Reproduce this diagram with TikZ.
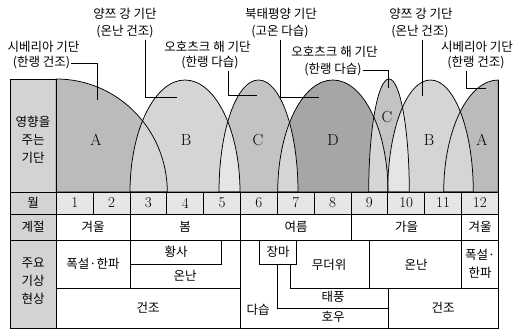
\documentclass[tikz,border=0pt]{standalone}
\usepackage{fontspec}
\newfontfamily\kr{Noto Sans CJK KR}
\definecolor{colL}{HTML}{D3D3D3}
\definecolor{colM}{HTML}{E6E6E6}
\definecolor{colA}{HTML}{BBBBBB}
\definecolor{colB}{HTML}{D5D5D5}
\definecolor{colC}{HTML}{C3C3C3}
\definecolor{colD}{HTML}{A6A6A6}
\definecolor{ovl}{HTML}{E5E5E5}
\definecolor{ovm}{HTML}{D6D6D6}
\def\arcA{(56.3,192) -- (56.3,79) arc[start angle=270,end angle=360,x radius=111,y radius=113] -- cycle}
\def\arcB{(130,192) arc[start angle=180,end angle=360,x radius=55,y radius=112] -- cycle}
\def\arcC{(219,192) arc[start angle=180,end angle=360,x radius=39.5,y radius=112] -- cycle}
\def\arcD{(277.7,192) arc[start angle=180,end angle=360,x radius=55.15,y radius=112] -- cycle}
\def\arcE{(368.7,192) arc[start angle=180,end angle=360,x radius=20.3,y radius=113] -- cycle}
\def\arcF{(387.7,192) arc[start angle=180,end angle=360,x radius=42.8,y radius=112] -- cycle}
\def\arcG{(443.7,192) arc[start angle=180,end angle=270,x radius=54.6,y radius=112] -- (498.3,192) -- cycle}
\begin{document}
\begin{tikzpicture}[x=1pt,y=-1pt,
  ln/.style={line width=0.75pt},
  kr/.style={font=\kr\fontsize{12.5}{17}\selectfont, inner sep=1pt, align=center},
  krt/.style={font=\kr\fontsize{12.5}{18}\selectfont, inner sep=1pt, align=center},
  num/.style={font=\fontsize{15}{15}\selectfont, inner sep=1pt},
  big/.style={font=\fontsize{16}{16}\selectfont, inner sep=1pt}]
\useasboundingbox (0,0) rectangle (516,329);
% background fills
\fill[colL] (10,79) rectangle (56.3,328);
\fill[colM] (56.3,192) rectangle (498.3,214);
\fill[white] (56.3,214) rectangle (498.3,328);
% air masses
\fill[colA] \arcA;
\fill[colB] \arcB;
\fill[colC] \arcC;
\fill[colD] \arcD;
\fill[colC] \arcE;
\fill[colA] \arcG;
\fill[colB] \arcF;
\begin{scope}\clip \arcB; \fill[ovl] \arcC; \end{scope}
\begin{scope}\clip \arcC; \fill[ovm] \arcD; \end{scope}
\begin{scope}\clip \arcD; \fill[ovm] \arcE; \end{scope}
\begin{scope}\clip \arcE; \fill[ovl] \arcF; \end{scope}
\draw[ln] \arcA; \draw[ln] \arcB; \draw[ln] \arcC; \draw[ln] \arcD;
\draw[ln] \arcE; \draw[ln] \arcF; \draw[ln] \arcG;
% table frame
\draw[ln] (10,79) -- (56.3,79);
\draw[ln] (10,79) -- (10,328) -- (498.3,328) -- (498.3,80);
\draw[ln] (56.3,79) -- (56.3,328);
\foreach \yy in {192,214,240} \draw[ln] (10,\yy) -- (498.3,\yy);
\foreach \i in {1,...,11} \draw[ln] (56.3+36.833*\i,192) -- (56.3+36.833*\i,214);
\foreach \xx in {130,240,351.7,461.7} \draw[ln] (\xx,214) -- (\xx,240);
% weather cells
\draw[ln] (130,240) -- (130,288.5);
\draw[ln] (56.3,288.5) -- (240,288.5);
\draw[ln] (240,240) -- (240,328);
\draw[ln] (130,264) -- (221.7,264) -- (221.7,240);
\draw[ln] (259.3,240) rectangle (296.7,264);
\draw[ln] (277.3,264) -- (277.3,308.3) -- (388,308.3);
\draw[ln] (290.5,264) -- (290.5,288.5) -- (498.3,288.5);
\draw[ln] (369.5,240) -- (369.5,288.5);
\draw[ln] (461.7,240) -- (461.7,288.5);
\draw[ln] (388,288.5) -- (388,328);
% left labels
\node[krt] (lab1) at (33,140) {영향을\\주는\\기단};
\node[krt] (lab2) at (33,203) {월};
\node[krt] (lab3) at (33,227) {계절};
\node[krt] (lab4) at (33,281) {주요\\기상\\현상};
% months
\foreach \i in {1,...,12} \node[num] (m\i) at (56.3+36.833*\i-18.42,203) {\i};
% air mass letters
\node[big] (LA1) at (96,140) {A};
\node[big] (LB1) at (186,140) {B};
\node[big] (LC1) at (258,140) {C};
\node[big] (LD) at (333,140) {D};
\node[big] (LC2) at (387,117) {C};
\node[big] (LB2) at (429,140) {B};
\node[big] (LA2) at (482,140) {A};
% seasons
\node[krt] (s1) at (93,227) {겨울};
\node[krt] (s2) at (185,227) {봄};
\node[krt] (s3) at (296,227) {여름};
\node[krt] (s4) at (406.5,227) {가을};
\node[krt] (s5) at (480,227) {겨울};
% phenomena
\node[krt] (w1) at (93,264) {폭설·한파};
\node[krt] (w2) at (176,252) {황사};
\node[krt] (w3) at (185,276) {온난};
\node[krt] (w4) at (148,308) {건조};
\node[krt] (w5) at (278,252) {장마};
\node[krt] (w6) at (329,265) {무더위};
\node[krt] (w7) at (416,265) {온난};
\node[krt] (w8) at (480,264) {폭설·\\한파};
\node[krt] (w9) at (258,310) {다습};
\node[krt] (w10) at (333,297) {태풍};
\node[krt] (w11) at (333,317) {호우};
\node[krt] (w12) at (443,308) {건조};
% top labels
\node[kr] (t1a) at (43.5,47) {시베리아 기단};
\node[kr] (t1b) at (41.5,63) {(한랭 건조)};
\node[kr] (t2a) at (125,14) {양쯔 강 기단};
\node[kr] (t2b) at (125,32) {(온난 건조)};
\node[kr] (t3a) at (207.5,47) {오호츠크 해 기단};
\node[kr] (t3b) at (210,63) {(한랭 다습)};
\node[kr] (t4a) at (281,14) {북태평양 기단};
\node[kr] (t4b) at (280,32) {(고온 다습)};
\node[kr] (t5a) at (334.5,52) {오호츠크 해 기단};
\node[kr] (t5b) at (333,70) {(한랭 다습)};
\node[kr] (t6a) at (421,14) {양쯔 강 기단};
\node[kr] (t6b) at (420,32) {(온난 건조)};
\node[kr] (t7a) at (477,47) {시베리아 기단};
\node[kr] (t7b) at (476,63) {(한랭 건조)};
% leader end points
\coordinate (e1) at (97,100);
\coordinate (e2) at (177,97);
\coordinate (x2) at (145,0);
\coordinate (x3) at (228,0);
\coordinate (e3) at (257,95);
\coordinate (e4) at (319,97);
\coordinate (e5) at (388,88);
\coordinate (e6) at (422.7,96);
\coordinate (x7) at (466,0);
\coordinate (e7) at (486,88);
\draw[ln] (t1b.east) -| (e1);
\draw[ln] (t2b.south -| x2) |- (e2);
\draw[ln] (t3b.south -| x3) |- (e3);
\draw[ln] (t4b.south) |- (e4);
\draw[ln] (t5b.east) -| (e5);
\draw[ln] (t6b.south -| e6) -- (e6);
\draw[ln] (t7b.south -| x7) |- (e7);
\end{tikzpicture}
\end{document}
